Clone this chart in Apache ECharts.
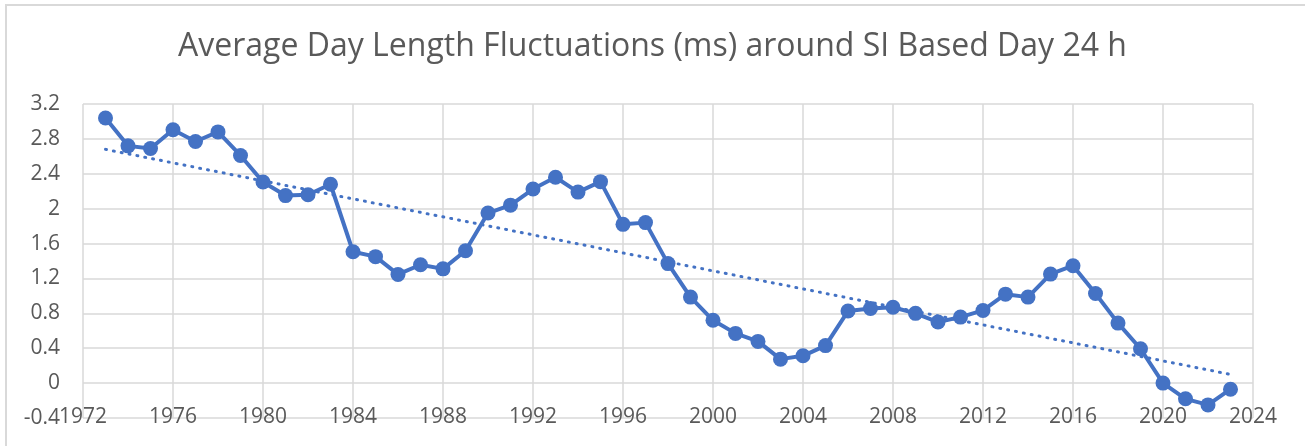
<!DOCTYPE html>
<html>
<head>
<meta charset="utf-8">
<script src="https://cdn.jsdelivr.net/npm/echarts@6/dist/echarts.min.js"></script>
<style>html,body{margin:0;padding:0;background:#fff;}#c{width:1305px;height:446px;}</style>
</head>
<body>
<div id="c"></div>
<script>
const titleText = 'Average Day Length Fluctuations (ms) around SI Based Day 24 h';
const years = [1973,1974,1975,1976,1977,1978,1979,1980,1981,1982,1983,1984,1985,1986,1987,1988,1989,1990,1991,1992,1993,1994,1995,1996,1997,1998,1999,2000,2001,2002,2003,2004,2005,2006,2007,2008,2009,2010,2011,2012,2013,2014,2015,2016,2017,2018,2019,2020,2021,2022,2023];
const dayLength = [3.04,2.72,2.69,2.905,2.77,2.88,2.61,2.305,2.15,2.16,2.28,1.506,1.45,1.246,1.357,1.31,1.518,1.95,2.04,2.225,2.36,2.19,2.31,1.82,1.84,1.37,0.986,0.72,0.57,0.478,0.275,0.313,0.43,0.826,0.856,0.87,0.80,0.70,0.757,0.833,1.02,0.986,1.25,1.346,1.028,0.688,0.394,0.0,-0.18,-0.25,-0.07];
const trendYears = [1973, 2023];
const trendValues = [2.68, 0.10];

const chart = echarts.init(document.getElementById('c'), null, {renderer:'canvas'});
const FONT = 'Open Sans';
chart.setOption({
  animation: false,
  backgroundColor: '#fff',
  title: {
    text: titleText, left: 'center', top: 26,
    textStyle: {fontFamily: FONT, fontSize: 32, fontWeight: 'normal', color: '#595959'}
  },
  graphic: [{
    type: 'rect', shape: {x: 6, y: 5, width: 1400, height: 500},
    style: {fill: 'none', stroke: '#d9d9d9', lineWidth: 2}, silent: true
  }],
  grid: {left: 83, right: 52, top: 104, bottom: 28, containLabel: false},
  xAxis: {
    type: 'value', min: 1972, max: 2024, interval: 4,
    axisLine: {show: false}, axisTick: {show: false},
    axisLabel: {fontFamily: FONT, fontSize: 21, color: '#595959', margin: -11, formatter: v => String(v)},
    splitLine: {show: true, lineStyle: {color: '#d9d9d9', width: 1.5}}
  },
  yAxis: {
    type: 'value', min: -0.4, max: 3.2, interval: 0.4,
    axisLine: {show: false}, axisTick: {show: false},
    axisLabel: {fontFamily: FONT, fontSize: 21, color: '#595959', margin: 23, formatter: v => String(+v.toFixed(1))},
    splitLine: {show: true, lineStyle: {color: '#d9d9d9', width: 1.5}}
  },
  series: [
    {
      type: 'line', data: trendYears.map((y, i) => [y, trendValues[i]]),
      symbol: 'none', z: 2,
      lineStyle: {color: '#4472C4', width: 3, type: [1, 7], cap: 'round'}
    },
    {
      type: 'line', data: years.map((y, i) => [y, dayLength[i]]),
      symbol: 'circle', symbolSize: 15, z: 3,
      itemStyle: {color: '#4472C4'},
      lineStyle: {color: '#4472C4', width: 4}
    }
  ]
});
</script>
</body>
</html>
